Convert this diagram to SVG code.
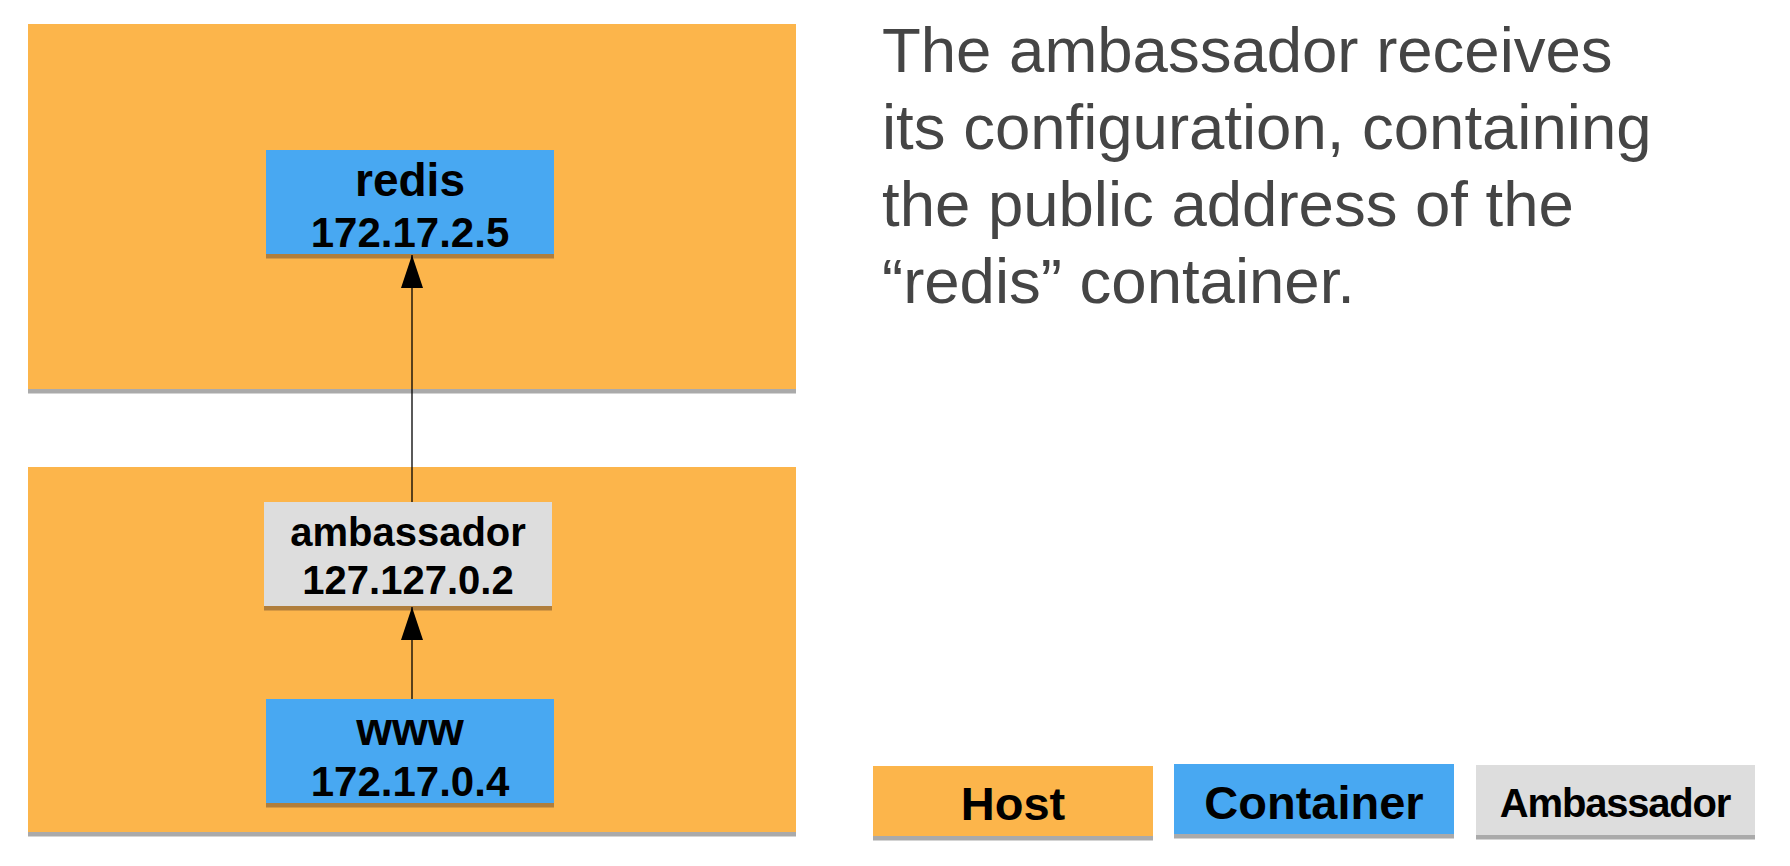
<svg xmlns="http://www.w3.org/2000/svg" width="1790" height="866" viewBox="0 0 1790 866">
<style>
.host{fill:#FCB54B}
.cont{fill:#48A8F2}
.amb{fill:#DDDDDD}
.sh-w{fill:#AAAAAA}
.sh-o{fill:#B07E3C}
.lbl{font-family:"Liberation Sans",Arial,sans-serif;font-weight:bold;fill:#000;text-anchor:middle}
.para{font-family:"Liberation Sans",Arial,sans-serif;font-size:63.5px;fill:#454545}
.edge{stroke:#000;stroke-width:1.3;fill:none}
</style>
<defs>
<marker id="arr" markerWidth="33" markerHeight="22" refX="33" refY="11" orient="auto" markerUnits="userSpaceOnUse" viewBox="0 0 33 22">
<path d="M33 11 L0 0 L0 22 Z" fill="#000"/>
</marker>
</defs>
<rect width="1790" height="866" fill="#FFFFFF"/>
<g id="host-top">
<rect class="sh-w" x="28" y="389" width="768" height="4.5"/>
<rect class="host" x="28" y="24" width="768" height="365"/>
</g>
<g id="host-bottom">
<rect class="sh-w" x="28" y="832" width="768" height="4.5"/>
<rect class="host" x="28" y="467" width="768" height="365"/>
</g>
<g id="redis">
<rect class="sh-o" x="266" y="254" width="288" height="4.5"/>
<rect class="cont" x="266" y="150" width="288" height="104"/>
<text class="lbl" x="410" y="196" font-size="46">redis</text>
<text class="lbl" x="410" y="247" font-size="42">172.17.2.5</text>
</g>
<g id="ambassador">
<rect class="sh-o" x="264" y="606" width="288" height="4.5"/>
<rect class="amb" x="264" y="502" width="288" height="104"/>
<text class="lbl" x="408" y="546" font-size="40">ambassador</text>
<text class="lbl" x="408" y="594" font-size="40">127.127.0.2</text>
</g>
<g id="www">
<rect class="sh-o" x="266" y="803" width="288" height="4.5"/>
<rect class="cont" x="266" y="699" width="288" height="104"/>
<text class="lbl" x="410" y="745" font-size="46">www</text>
<text class="lbl" x="410" y="796" font-size="42">172.17.0.4</text>
</g>
<g id="connectors">
<line class="edge" x1="412" y1="502" x2="412" y2="255" marker-end="url(#arr)"/>
<line class="edge" x1="412" y1="699" x2="412" y2="607" marker-end="url(#arr)"/>
</g>
<g id="description">
<text class="para" x="882" y="72">The ambassador receives</text>
<text class="para" x="882" y="149">its configuration, containing</text>
<text class="para" x="882" y="226">the public address of the</text>
<text class="para" x="882" y="303">“redis” container.</text>
</g>
<g id="legend-host">
<rect class="sh-w" x="873" y="836" width="280" height="4.5"/>
<rect class="host" x="873" y="766" width="280" height="70"/>
<text class="lbl" x="1013" y="820" font-size="47">Host</text>
</g>
<g id="legend-container">
<rect class="sh-w" x="1174" y="834" width="280" height="4.5"/>
<rect class="cont" x="1174" y="764" width="280" height="70"/>
<text class="lbl" x="1314" y="819" font-size="47">Container</text>
</g>
<g id="legend-ambassador">
<rect class="sh-w" x="1476" y="835" width="279" height="4.5"/>
<rect class="amb" x="1476" y="765" width="279" height="70"/>
<text class="lbl" x="1615" y="817" font-size="40" letter-spacing="-1.2">Ambassador</text>
</g>
</svg>
